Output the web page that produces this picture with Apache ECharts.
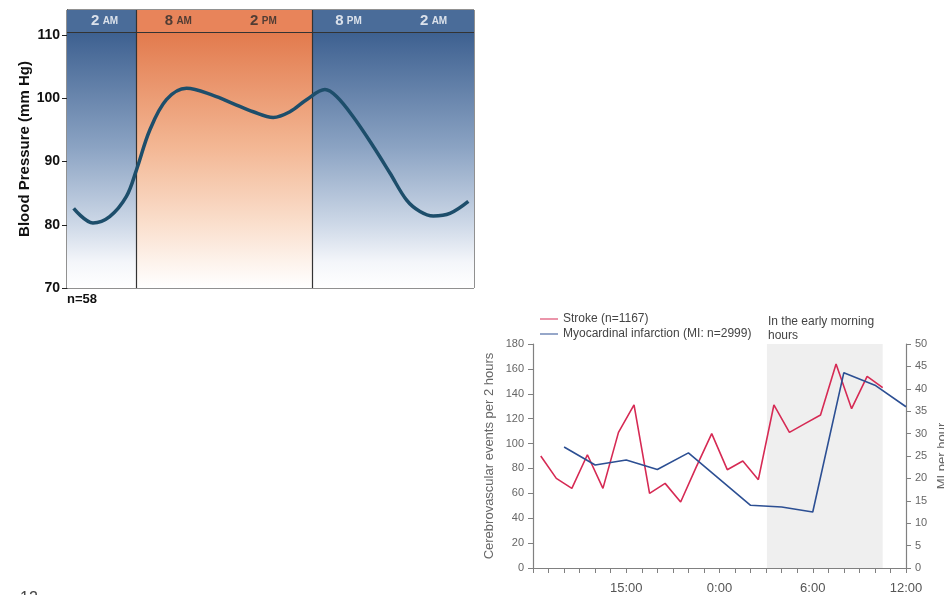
<!DOCTYPE html>
<html><head><meta charset="utf-8">
<script src="https://cdn.jsdelivr.net/npm/echarts@6/dist/echarts.min.js"></script>
<style>html,body{margin:0;padding:0;background:#fff}#c{width:944px;height:595px}</style>
</head><body><div id="c"></div>
<script>
// ---- Chart 1: blood pressure over the day ----
const bpHours = [0.62,1.98,3.16,4.34,5.05,5.99,7.16,8.58,10.45,11.86,13.28,14.69,15.87,17.04,18.34,19.16,20.33,21.75,22.92,24.1,25.04,25.98,27.15,28.45];
const bpValues = [82.6,80.3,81.3,84.5,88.7,95.0,99.8,101.6,100.5,99.2,97.9,97.0,97.9,99.8,101.4,100.3,97.1,92.4,88.2,83.9,82.1,81.4,81.8,83.7];
const bpTicks = [70,80,90,100,110];
const headerHours = [2.8,8,14,20,26];
const headerNums = ['2','8','2','8','2'];
const headerSuffix = ['AM','AM','PM','PM','AM'];
const headerDay = [false,true,true,false,false];
const dayStart = 5.05, dayEnd = 17.45;
const bpXMin = 0.15, bpXMax = 28.85;

// ---- Chart 2: stroke and MI ----
const strokeHours = [0.5,1.5,2.5,3.5,4.5,5.5,6.5,7.5,8.5,9.5,10.5,11.5,12.5,13.5,14.5,15.5,16.5,17.5,18.5,19.5,20.5,21.5,22.5];
const strokeValues = [90,72,64,91,64,109,131,60,68,53,81,108,79,86,71,131,109,116,123,164,128,154,145];
const miHours = [2,4,6,8,10,14,16,18,20,22,24];
const miValues = [27.0,23.0,24.1,22.0,25.7,14.0,13.6,12.5,43.6,40.8,36.0];
const xTickPos = [6,12,18,24];
const xTickText = ['15:00','0:00','6:00','12:00'];
const morningRange = [15.05,22.5];

const blueGrad = {type:'linear',x:0,y:0,x2:0,y2:1,colorStops:[
  {offset:0,color:'#3d6090'},{offset:0.45,color:'#8ba3c3'},{offset:0.75,color:'#cdd8e7'},{offset:0.9,color:'#f4f6fa'},{offset:1,color:'#ffffff'}]};
const orangeGrad = {type:'linear',x:0,y:0,x2:0,y2:1,colorStops:[
  {offset:0,color:'#e27a4d'},{offset:0.45,color:'#f3b794'},{offset:0.75,color:'#fadfcd'},{offset:0.9,color:'#fdf3ec'},{offset:1,color:'#ffffff'}]};

const chart = echarts.init(document.getElementById('c'));
const headerData = headerHours.map((h,i)=>({value:[h,112.25],
  label:{formatter:'{n|'+headerNums[i]+'} {s|'+headerSuffix[i]+'}',
    rich:{n:{fontSize:15,fontWeight:'bold',color:headerDay[i]?'#2a2a2a':'#ffffff',fontFamily:'Liberation Sans'},
          s:{fontSize:10,fontWeight:'bold',color:headerDay[i]?'#2a2a2a':'#ffffff',fontFamily:'Liberation Sans'}}}}));

chart.setOption({
  animation:false,
  textStyle:{fontFamily:'Liberation Sans'},
  grid:[
    {left:67,top:10,width:407,height:278,show:true,borderColor:'#222',borderWidth:1,backgroundColor:'transparent',outerBoundsMode:'none',containLabel:false},
    {left:533,top:344,width:373,height:224,outerBoundsMode:'none',containLabel:false}
  ],
  xAxis:[
    {gridIndex:0,type:'value',min:bpXMin,max:bpXMax,show:false},
    {gridIndex:1,type:'value',min:0,max:24,interval:1,
     axisLine:{lineStyle:{color:'#808080',width:1.2}},
     axisTick:{show:true,length:5,lineStyle:{color:'#808080'}},
     splitLine:{show:false},
     axisLabel:{customValues:xTickPos,formatter:v=>xTickText[xTickPos.indexOf(v)]||'',color:'#555',fontSize:13,margin:14}}
  ],
  yAxis:[
    {gridIndex:0,type:'value',min:70,max:114,interval:10,
     name:'Blood Pressure (mm Hg)',nameLocation:'middle',nameGap:33,
     nameTextStyle:{fontSize:15,fontWeight:'bold',color:'#111'},
     axisLine:{show:true,lineStyle:{color:'#222'}},
     axisTick:{show:true,length:5,customValues:bpTicks,lineStyle:{color:'#222'}},
     axisLabel:{customValues:bpTicks,fontSize:14,fontWeight:'bold',color:'#111',margin:7},
     splitLine:{show:false}},
    {gridIndex:1,type:'value',min:0,max:180,interval:20,
     name:'Cerebrovascular events per 2 hours',nameLocation:'middle',nameGap:37,
     nameTextStyle:{fontSize:13,color:'#666'},
     axisLine:{show:true,lineStyle:{color:'#808080',width:1.2}},
     axisTick:{show:true,length:5,lineStyle:{color:'#808080'}},
     axisLabel:{fontSize:11,color:'#666',margin:9},splitLine:{show:false}},
    {gridIndex:1,type:'value',min:0,max:50,interval:5,position:'right',
     name:'MI per hour',nameLocation:'middle',nameGap:30,nameRotate:90,
     nameTextStyle:{fontSize:13,color:'#666'},
     axisLine:{show:true,lineStyle:{color:'#808080',width:1.2}},
     axisTick:{show:true,length:5,lineStyle:{color:'#808080'}},
     axisLabel:{fontSize:11,color:'#666',margin:9},splitLine:{show:false}}
  ],
  legend:{left:535,top:308,orient:'vertical',itemGap:3,itemWidth:18,itemHeight:10,
    data:['Stroke (n=1167)','Myocardinal infarction (MI: n=2999)'],
    textStyle:{fontSize:12,color:'#444'},icon:'path://M0,4.5 L18,4.5 L18,5.5 L0,5.5 Z'},
  series:[
    {type:'line',xAxisIndex:0,yAxisIndex:0,data:bpHours.map((h,i)=>[h,bpValues[i]]),
     smooth:0.35,showSymbol:false,symbol:'none',lineStyle:{color:'#1d4e6b',width:3.5},z:5,
     markArea:{silent:true,data:[
       [{coord:[bpXMin,70],itemStyle:{color:blueGrad}},{coord:[dayStart,110.5]}],
       [{coord:[dayStart,70],itemStyle:{color:orangeGrad}},{coord:[dayEnd,110.5]}],
       [{coord:[dayEnd,70],itemStyle:{color:blueGrad}},{coord:[bpXMax,110.5]}],
       [{coord:[bpXMin,110.5],itemStyle:{color:'#4a6c99'}},{coord:[dayStart,114]}],
       [{coord:[dayStart,110.5],itemStyle:{color:'#e8845a'}},{coord:[dayEnd,114]}],
       [{coord:[dayEnd,110.5],itemStyle:{color:'#4a6c99'}},{coord:[bpXMax,114]}]
     ]},
     markLine:{silent:true,symbol:'none',label:{show:false},
       lineStyle:{color:'#333',width:1.2,type:'solid'},
       data:[{yAxis:110.5},{xAxis:dayStart},{xAxis:dayEnd}]}},
    {type:'scatter',xAxisIndex:0,yAxisIndex:0,symbolSize:0,silent:true,z:6,
     label:{show:true,position:'inside'},data:headerData},
    {name:'Stroke (n=1167)',type:'line',xAxisIndex:1,yAxisIndex:1,
     data:strokeHours.map((h,i)=>[h,strokeValues[i]]),
     symbol:'none',lineStyle:{color:'#d62a54',width:1.6},itemStyle:{color:'#d62a54'},z:4,
     markArea:{silent:true,itemStyle:{color:'#efefef'},data:[[{coord:[morningRange[0],0]},{coord:[morningRange[1],180]}]]}},
    {name:'Myocardinal infarction (MI: n=2999)',type:'line',xAxisIndex:1,yAxisIndex:2,
     data:miHours.map((h,i)=>[h,miValues[i]]),
     symbol:'none',lineStyle:{color:'#2c4f93',width:1.6},itemStyle:{color:'#2c4f93'},z:4}
  ],
  graphic:[
    {type:'text',left:67,top:293,style:{text:'n=58',fontSize:13,fontWeight:'bold',fill:'#111',fontFamily:'Liberation Sans'}},
    {type:'text',left:768,top:315,style:{text:'In the early morning\nhours',fontSize:12,lineHeight:14,fill:'#444',fontFamily:'Liberation Sans'}},
    {type:'text',left:20,top:591,style:{text:'12',fontSize:16,fill:'#444',fontFamily:'Liberation Sans'}}
  ]
});
</script></body></html>
